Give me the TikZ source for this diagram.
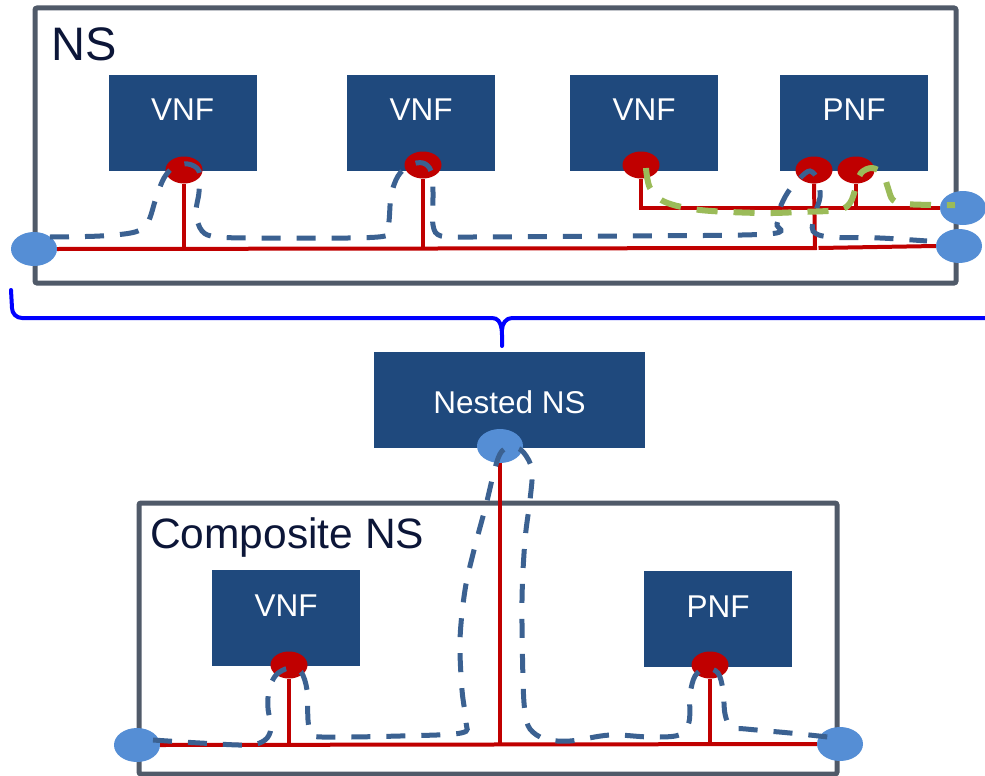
\documentclass[tikz,border=0pt]{standalone}
\usepackage{fontspec}
\setmainfont{Liberation Sans}
\usetikzlibrary{shapes.geometric}
\definecolor{boxblue}{RGB}{31,73,125}
\definecolor{portred}{RGB}{192,0,0}
\definecolor{epblue}{RGB}{85,142,213}
\definecolor{dashblue}{RGB}{59,97,145}
\definecolor{dashgreen}{RGB}{155,187,89}
\definecolor{framegray}{RGB}{80,90,105}
\definecolor{titlenavy}{RGB}{12,22,56}
\definecolor{bracecol}{RGB}{0,0,255}
\begin{document}
\begin{tikzpicture}[x=1pt,y=-1pt,
  nsframe/.style={draw=framegray,line width=5pt,rounded corners=2pt},
  fnbox/.style={rectangle,fill=boxblue,draw=none,minimum width=148pt,minimum height=96pt,inner sep=0pt},
  fnlabel/.style={text=white,font=\fontsize{31.5}{31.5}\selectfont,inner sep=0pt},
  title/.style={text=titlenavy,inner sep=0pt,anchor=west},
  redport/.style={ellipse,fill=portred,draw=none,minimum width=37pt,minimum height=27pt,inner sep=0pt},
  endpt/.style={ellipse,fill=epblue,draw=none,minimum width=46pt,minimum height=34pt,inner sep=0pt},
  redline/.style={draw=portred,line width=4pt},
  bluedash/.style={draw=dashblue,line width=5pt,dash pattern=on 19pt off 16pt},
  greendash/.style={draw=dashgreen,line width=6pt,dash pattern=on 21pt off 16pt},
  bracestyle/.style={draw=bracecol,line width=4pt,line cap=round}
]
\useasboundingbox[fill=white] (0,0) rectangle (985,776);

% outer frames
\draw[nsframe] (35,8) rectangle (956,283);
\draw[nsframe] (139,503) rectangle (837,774);
\node[title,font=\fontsize{47}{47}\selectfont] (nslabel) at (51,44) {NS};
\node[title,font=\fontsize{42.5}{42.5}\selectfont] (complabel) at (150,538) {Composite NS};

% brace
\coordinate (brL) at (11,290);
\coordinate (brTip) at (502,346);
\coordinate (brR) at (990,318);
\draw[bracestyle] (brL) -- (12,308) to[out=-90,in=180] (22,318) -- (492,318)
  to[out=0,in=90] (brTip);
\draw[bracestyle] (502,330) to[out=90,in=180] (512,318) -- (brR);

% function boxes, top
\node[fnbox] (vnf1) at (182.5,123) {};
\node[fnbox] (vnf2) at (421,123) {};
\node[fnbox] (vnf3) at (644,123) {};
\node[fnbox] (pnf1) at (854,123) {};
\node[fnlabel] (vnf1t) at (182.5,110) {VNF};
\node[fnlabel] (vnf2t) at (421,110) {VNF};
\node[fnlabel] (vnf3t) at (644,110) {VNF};
\node[fnlabel] (pnf1t) at (854,110) {PNF};

% nested NS
\node[fnbox,minimum width=271pt] (nested) at (509.5,400) {};
\node[fnlabel] (nestedt) at (509.5,402) {Nested NS};

% function boxes, composite
\node[fnbox] (cvnf) at (286,618) {};
\node[fnbox] (cpnf) at (718,619) {};
\node[fnlabel] (cvnft) at (286,606) {VNF};
\node[fnlabel] (cpnft) at (718,607) {PNF};

% ports
\node[redport] (p1) at (184,170) {};
\node[redport] (p2) at (423,165) {};
\node[redport] (p3) at (641,165) {};
\node[redport] (p4a) at (814,170) {};
\node[redport] (p4b) at (856,170) {};
\node[redport] (cp1) at (289,665) {};
\node[redport] (cp2) at (710,665) {};

% end points
\node[endpt] (epL) at (34,249) {};
\node[endpt] (epR1) at (963,208) {};
\node[endpt] (epR2) at (959,246) {};
\node[endpt] (nport) at (500,446) {};
\node[endpt] (epBL) at (137,745) {};
\node[endpt] (epBR) at (840,744) {};

% red links, top
\coordinate (j1) at (815,248);
\coordinate (j1b) at (818.5,248);
\draw[redline] (epL.east) -- (j1) -- (p4a.south);
\draw[redline] (j1b) -- (epR2.west);
\draw[redline] (p1.south) -- (p1.south |- j1);
\draw[redline] (p2.south) -- (p2.south |- j1);
\draw[redline] (p3.south) |- (epR1.west);
\draw[redline] (p4b.south) -- (p4b.south |- epR1.west);

% red links, composite
\draw[redline] (epBL.east) -- (epBR.west);
\draw[redline] (cp1.south) -- (cp1.south |- epBL.east);
\draw[redline] (nport.south) -- (nport.south |- epBL.east);
\draw[redline] (cp2.south) -- (cp2.south |- epBL.east);

% blue dashed path, top
\draw[bluedash] plot[smooth,tension=0.55] coordinates {
 (50,237) (100,236) (135,232) (148,222) (156,198) (164,178) (174,167) (188,164) (199,171)
 (199,192) (196,213) (202,231) (218,237) (270,238) (378,237) (388,227) (391,196) (398,176)
 (410,165) (423,163) (431,171) (433,192) (433,225) (441,236) (470,237) (620,236) (768,234)
 (777,224) (780,208) (788,192) (800,178) (810,171) (818,180) (820,197) (815,214) (813,231)
 (830,237) (880,238) (927,241)};

% green dashed path
\draw[greendash] plot[smooth,tension=0.55] coordinates {
 (646,168) (650,188) (665,202) (700,210) (760,213) (800,212) (838,210) (850,203) (856,187)
 (861,173) (872,168) (883,174) (888,188) (893,200) (906,204) (935,205) (955,205)};

% blue dashed path, composite
\draw[bluedash] plot[smooth,tension=0.55] coordinates {
 (153,740) (200,743) (248,745) (265,740) (271,728) (268,708) (269,690) (276,675) (289,668)
 (301,672) (307,690) (308,720) (311,733) (322,737) (400,736) (461,733) (466,722) (462,690)
 (460,640) (465,590) (474,550) (486,505) (495,468) (502,451) (514,447) (524,453) (532,470)
 (530,500) (525,540) (522,600) (523,680) (525,712) (530,729) (545,739) (570,741) (610,735)
 (650,737) (679,735) (689,722) (690,695) (695,676) (706,668) (718,673) (723,690) (725,714)
 (731,727) (746,729) (790,733) (828,737)};
\end{tikzpicture}
\end{document}
